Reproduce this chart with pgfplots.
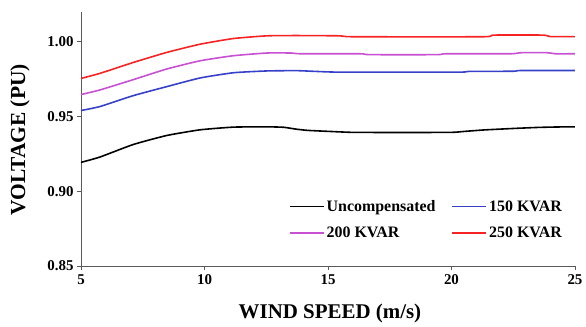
\documentclass[border=0pt]{standalone}
\usepackage{fontspec}
\setmainfont{Liberation Serif}
\usepackage{pgfplots}
\pgfplotsset{compat=1.18}

\definecolor{cBlue}{RGB}{55,65,200}
\definecolor{cMag}{RGB}{200,80,210}
\definecolor{cRed}{RGB}{245,35,35}
\definecolor{cAxis}{RGB}{90,90,90}

\begin{document}
\begin{tikzpicture}
\begin{axis}[
  scale only axis,
  width=494bp, height=254bp,
  xmin=5, xmax=25, ymin=0.85, ymax=1.02,
  axis lines=left,
  axis line style={-, cAxis, line width=0.8pt},
  xtick={5,10,15,20,25},
  ytick={0.85,0.90,0.95,1.00},
  tick align=outside,
  major tick length=4bp,
  tick style={cAxis, line width=0.8pt},
  /pgf/number format/assume math mode=true,
  yticklabel style={/pgf/number format/.cd, fixed, fixed zerofill, precision=2},
  ticklabel style={font=\fontsize{15}{18}\selectfont\bfseries},
  xticklabel style={yshift=-1bp},
  xlabel={WIND SPEED (m/s)},
  ylabel={VOLTAGE (PU)},
  every axis x label/.style={at={(rel axis cs:0.504,-0.208)}, anchor=base, font=\fontsize{21}{24}\selectfont\bfseries},
  every axis y label/.style={at={(rel axis cs:-0.1235,0.496)}, rotate=90, anchor=center, font=\fontsize{21.5}{24}\selectfont\bfseries},
  clip=false,
  legend columns=2,
  legend cell align=left,
  legend style={draw=none, fill=none, at={(rel axis cs:0.984,0.275)}, anchor=north east,
    font=\fontsize{16}{18}\selectfont\bfseries,
    /tikz/every even column/.append style={column sep=14bp},
    row sep=10bp},
  legend image code/.code={\draw[#1] (0bp,0bp) -- (34bp,0bp);},
  every axis plot/.append style={line width=1.6pt, smooth, tension=0.3},
]
% Uncompensated
\addplot[black] coordinates {
 (5,0.9193) (5.77,0.9229) (7.12,0.9313) (8.47,0.9373) (9.82,0.9411)
 (11.17,0.9429) (12.52,0.9431) (13.2,0.9428) (13.73,0.9415) (14.2,0.9407)
 (15.1,0.9400) (16.0,0.9394) (18,0.9393) (20.0,0.9394) (20.5,0.9400)
 (21.3,0.9410) (22.5,0.9420) (23.5,0.9427) (24.3,0.9430) (25,0.9431)};
\addlegendentry{Uncompensated}
% 150 KVAR
\addplot[cBlue] coordinates {
 (5,0.9540) (5.77,0.9567) (7.12,0.9640) (8.47,0.9700) (9.82,0.9758)
 (11.17,0.9793) (12.52,0.9805) (13.73,0.9807) (14.5,0.9802) (15.5,0.9797)
 (20.3,0.9797) (20.7,0.9802) (22.5,0.9803) (22.8,0.9808) (25,0.9808)};
\addlegendentry{150 KVAR}
% 200 KVAR
\addplot[cMag] coordinates {
 (5,0.9647) (5.77,0.9678) (7.12,0.9747) (8.47,0.9818) (9.82,0.9873)
 (11.17,0.9907) (12.52,0.9925) (13.5,0.9925) (13.9,0.9920) (16.3,0.9920)
 (16.7,0.9914) (19.4,0.9914) (19.8,0.9920) (22.4,0.9920) (22.8,0.9927)
 (23.9,0.9927) (24.2,0.9920) (25,0.9920)};
\addlegendentry{200 KVAR}
% 250 KVAR
\addplot[cRed] coordinates {
 (5,0.9755) (5.77,0.9789) (7.12,0.9862) (8.47,0.9929) (9.82,0.9984)
 (11.17,1.0022) (12.52,1.0040) (13.73,1.0042) (15.5,1.0040) (16.0,1.0034)
 (21.3,1.0034) (21.7,1.0045) (23.7,1.0045) (24.0,1.0035) (25,1.0035)};
\addlegendentry{250 KVAR}
% page frame
\path (rel axis cs:-0.164,1.047) rectangle (rel axis cs:1.0223,-0.2205);
\end{axis}
\end{tikzpicture}
\end{document}
